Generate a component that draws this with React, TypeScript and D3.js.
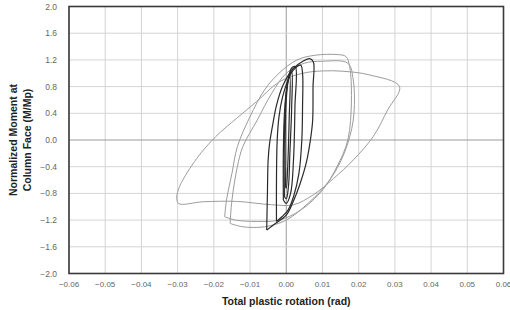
import React, { useEffect, useRef } from "react";
import * as d3 from "d3";

type Pt = [number, number];

const xTicks = [-0.06, -0.05, -0.04, -0.03, -0.02, -0.01, 0, 0.01, 0.02, 0.03, 0.04, 0.05, 0.06];
const yTicks = [-2.0, -1.6, -1.2, -0.8, -0.4, 0.0, 0.4, 0.8, 1.2, 1.6, 2.0];

// small cycles near zero (dark)
const loopA1: Pt[] = [
  [-0.0005, -0.85], [-0.0006, -0.3], [-0.0004, 0.3], [0.0, 0.7], [0.0008, 0.95], [0.0015, 1.02],
  [0.0015, 0.5], [0.001, -0.2], [0.0006, -0.7], [0.0, -0.88], [-0.0005, -0.85],
];
const loopA2: Pt[] = [
  [-0.0008, -0.9], [-0.0008, -0.2], [-0.0005, 0.4], [0.0003, 0.85], [0.0015, 1.08], [0.0025, 1.1],
  [0.0024, 0.5], [0.002, -0.3], [0.0012, -0.8], [0.0, -0.95], [-0.0008, -0.9],
];
const loopA3: Pt[] = [
  [-0.0002, -0.7], [-0.0003, 0.0], [0.0, 0.6], [0.0006, 0.9], [0.001, 0.95],
  [0.0008, 0.3], [0.0004, -0.4], [0.0, -0.72], [-0.0002, -0.7],
];
const loopC: Pt[] = [
  [-0.0027, -1.22], [-0.0027, -0.6], [-0.0025, 0.0], [-0.002, 0.35], [-0.001, 0.65], [0.0005, 0.9],
  [0.002, 1.05], [0.004, 1.12], [0.0045, 1.0], [0.0045, 0.5], [0.0043, 0.0], [0.0035, -0.5],
  [0.002, -0.85], [0.0005, -1.05], [-0.0012, -1.15], [-0.0027, -1.22],
];
const loopB: Pt[] = [
  [-0.0054, -1.35], [-0.0052, -0.8], [-0.005, -0.3], [-0.0046, -0.05], [-0.0035, 0.3], [-0.0027, 0.52],
  [-0.0009, 0.82], [0.0019, 1.07], [0.0046, 1.18], [0.0065, 1.22], [0.0075, 1.17], [0.0074, 0.8],
  [0.0073, 0.3], [0.0068, 0.05], [0.0056, -0.325], [0.0037, -0.675], [0.0019, -0.925], [0.0, -1.125],
  [-0.003, -1.25], [-0.0054, -1.35],
];

// medium cycles (grey)
const loopD1: Pt[] = [
  [-0.017, -1.15], [-0.0165, -0.9], [-0.015, -0.5], [-0.0135, -0.1], [-0.01, 0.35], [-0.006, 0.75],
  [-0.002, 1.0], [0.003, 1.2], [0.008, 1.27], [0.014, 1.28], [0.0165, 1.25], [0.0175, 1.1],
  [0.018, 0.6], [0.017, 0.0], [0.014, -0.4], [0.01, -0.75], [0.004, -1.05], [-0.002, -1.2],
  [-0.008, -1.22], [-0.014, -1.2], [-0.017, -1.15],
];
const loopD2: Pt[] = [
  [-0.0155, -1.25], [-0.015, -0.9], [-0.0135, -0.4], [-0.012, -0.1], [-0.008, 0.3], [-0.004, 0.7],
  [0.0, 1.0], [0.005, 1.15], [0.01, 1.18], [0.017, 1.15], [0.0185, 0.9], [0.0185, 0.3],
  [0.016, -0.2], [0.012, -0.6], [0.006, -0.95], [0.0, -1.2], [-0.006, -1.3], [-0.012, -1.3],
  [-0.0155, -1.25],
];

// largest cycle (grey)
const loopE: Pt[] = [
  [-0.0302, -0.82], [-0.0293, -0.675], [-0.0247, -0.275], [-0.0195, 0.05], [-0.0137, 0.325],
  [-0.0082, 0.575], [-0.0018, 0.875], [0.0046, 1.0], [0.0101, 1.035], [0.0157, 1.03], [0.023, 0.975],
  [0.0313, 0.8], [0.028, 0.45], [0.024, 0.05], [0.0185, -0.3], [0.013, -0.58], [0.0075, -0.82],
  [0.002, -0.97], [-0.004, -0.97], [-0.0137, -0.92], [-0.0229, -0.925], [-0.0298, -0.95], [-0.0302, -0.82],
];

const darkLoops = [loopA1, loopA2, loopA3, loopC, loopB];
const greyLoops = [loopD1, loopD2, loopE];

const App = () => {
  const ref = useRef<SVGSVGElement>(null);

  useEffect(() => {
    const svg = d3.select(ref.current);
    svg.selectAll("*").remove();

    const x = d3.scaleLinear().domain([-0.06, 0.06]).range([69, 503.5]);
    const y = d3.scaleLinear().domain([-2, 2]).range([273.5, 6.5]);

    const grid = svg.append("g");
    grid
      .selectAll("line.v")
      .data(xTicks)
      .enter()
      .append("line")
      .attr("x1", (d) => x(d))
      .attr("x2", (d) => x(d))
      .attr("y1", y(-2))
      .attr("y2", y(2))
      .attr("stroke", (d) => (d === 0 ? "#9a9a9a" : "#d4d4d4"))
      .attr("stroke-width", 1);
    grid
      .selectAll("line.h")
      .data(yTicks)
      .enter()
      .append("line")
      .attr("x1", x(-0.06))
      .attr("x2", x(0.06))
      .attr("y1", (d) => y(d))
      .attr("y2", (d) => y(d))
      .attr("stroke", (d) => (d === 0 ? "#9a9a9a" : "#d4d4d4"))
      .attr("stroke-width", 1);

    const line = d3
      .line<Pt>()
      .x((d) => x(d[0]))
      .y((d) => y(d[1]))
      .curve(d3.curveCatmullRom.alpha(0.5));

    svg
      .append("g")
      .selectAll("path")
      .data(greyLoops)
      .enter()
      .append("path")
      .attr("d", (d) => line(d))
      .attr("fill", "none")
      .attr("stroke", "#9c9c9c")
      .attr("stroke-width", 1);

    svg
      .append("g")
      .selectAll("path")
      .data(darkLoops)
      .enter()
      .append("path")
      .attr("d", (d) => line(d))
      .attr("fill", "none")
      .attr("stroke", "#2a2a2a")
      .attr("stroke-width", 1.2);

    // frame
    svg
      .append("rect")
      .attr("x", x(-0.06))
      .attr("y", y(2))
      .attr("width", x(0.06) - x(-0.06))
      .attr("height", y(-2) - y(2))
      .attr("fill", "none")
      .attr("stroke", "#3a3a3a")
      .attr("stroke-width", 1.6);

    const font = "Arial, 'Liberation Sans', sans-serif";

    svg
      .append("g")
      .selectAll("text")
      .data(yTicks)
      .enter()
      .append("text")
      .attr("x", 57)
      .attr("y", (d) => y(d) + 3)
      .attr("text-anchor", "end")
      .attr("font-family", font)
      .attr("font-size", 8.5)
      .attr("fill", "#666")
      .text((d) => d3.format(".1f")(d));

    svg
      .append("g")
      .selectAll("text")
      .data(xTicks)
      .enter()
      .append("text")
      .attr("x", (d) => x(d))
      .attr("y", 287)
      .attr("text-anchor", "middle")
      .attr("font-family", font)
      .attr("font-size", 8)
      .attr("fill", "#666")
      .text((d) => d3.format(".2f")(d));

    svg
      .append("text")
      .attr("x", x(0))
      .attr("y", 305)
      .attr("text-anchor", "middle")
      .attr("font-family", font)
      .attr("font-size", 10.5)
      .attr("font-weight", "bold")
      .attr("fill", "#222")
      .text("Total plastic rotation (rad)");

    const yt = svg
      .append("text")
      .attr("transform", `translate(0,${y(0)}) rotate(-90)`)
      .attr("text-anchor", "middle")
      .attr("font-family", font)
      .attr("font-size", 10.5)
      .attr("font-weight", "bold")
      .attr("fill", "#222");
    yt.append("tspan").attr("x", 0).attr("y", 17).text("Normalized Moment at");
    yt.append("tspan").attr("x", 0).attr("y", 31).text("Column Face (M/Mp)");
  }, []);

  return (
    <svg
      ref={ref}
      width={510}
      height={310}
      style={{ position: "absolute", left: 0, top: 0, background: "#fff" }}
    />
  );
};

export default App;
